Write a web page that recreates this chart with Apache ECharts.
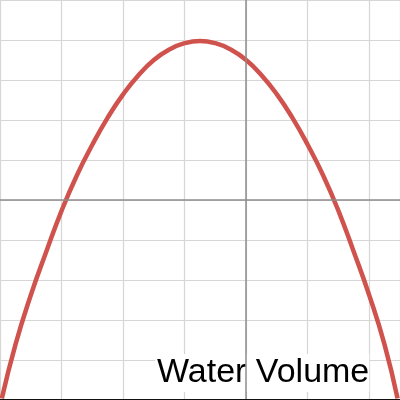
<!DOCTYPE html>
<html>
<head>
<meta charset="utf-8">
<script src="https://cdn.jsdelivr.net/npm/echarts@6/dist/echarts.min.js"></script>
<style>html,body{margin:0;padding:0;background:#fff}#c{width:400px;height:400px}</style>
</head>
<body>
<div id="c"></div>
<script>
// Values (x, y in graph units)
var curveX = [-3.97, -3.75, -3.5, -3.25, -3.0, -2.75, -2.5, -2.25, -2.0, -1.75, -1.5, -1.25, -1.0, -0.75,
              -0.5, -0.25, 0.0, 0.25, 0.5, 0.75, 1.0, 1.25, 1.5, 1.75, 2.0, 2.25, 2.46];
var curveY = [-4.96, -3.62, -2.38, -1.30, -0.27, 0.62, 1.38, 2.06, 2.64, 3.12, 3.50, 3.76, 3.92, 3.975,
              3.92, 3.76, 3.50, 3.12, 2.64, 2.06, 1.38, 0.62, -0.27, -1.30, -2.38, -3.62, -4.96];
var xRange = [-4, 2.5];
var yRange = [-5, 5];
var labelText = 'Water Volume';

var pts = curveX.map(function (x, i) { return [x, curveY[i]]; });

var chart = echarts.init(document.getElementById('c'), null, {renderer: 'canvas'});
var font = '"Liberation Sans", Arial, sans-serif';
chart.setOption({
  animation: false,
  backgroundColor: '#fff',
  grid: {left: 0, right: 0, top: 0, bottom: 0, containLabel: false},
  title: {
    text: labelText,
    left: 155,
    top: 354,
    padding: [2, 0, 2, 2],
    backgroundColor: '#fff',
    z: 5,
    textStyle: {fontSize: 34, fontWeight: 'normal', color: '#000', fontFamily: font}
  },
  xAxis: [
    {type: 'value', min: xRange[0], max: xRange[1], interval: 1, z: 0,
     axisLine: {show: false}, axisTick: {show: false}, axisLabel: {show: false},
     splitLine: {show: true, lineStyle: {color: '#d6d6d6', width: 1.2}}},
    {type: 'value', min: xRange[0], max: xRange[1], interval: 1, z: 10, position: 'bottom',
     axisLine: {show: true, onZero: true, lineStyle: {color: '#8c8c8c', width: 1.5}},
     axisTick: {show: false}, axisLabel: {show: false}, splitLine: {show: false}},
    {type: 'value', min: xRange[0], max: xRange[1], interval: 1, z: 10, position: 'bottom',
     axisLine: {show: true, onZero: false, lineStyle: {color: '#111', width: 3}},
     axisTick: {show: false}, axisLabel: {show: false}, splitLine: {show: false}}
  ],
  yAxis: [
    {type: 'value', min: yRange[0], max: yRange[1], interval: 1, z: 0,
     axisLine: {show: false}, axisTick: {show: false}, axisLabel: {show: false},
     splitLine: {show: true, lineStyle: {color: '#d6d6d6', width: 1.2}}},
    {type: 'value', min: yRange[0], max: yRange[1], interval: 1, z: 10,
     axisLine: {show: true, onZero: true, lineStyle: {color: '#8c8c8c', width: 1.5}},
     axisTick: {show: false}, axisLabel: {show: false}, splitLine: {show: false}}
  ],
  series: [{
    type: 'line',
    xAxisIndex: 0,
    yAxisIndex: 0,
    data: pts,
    smooth: true,
    showSymbol: false,
    symbol: 'none',
    z: 3,
    lineStyle: {color: '#d0524d', width: 4.5}
  }]
});
</script>
</body>
</html>
